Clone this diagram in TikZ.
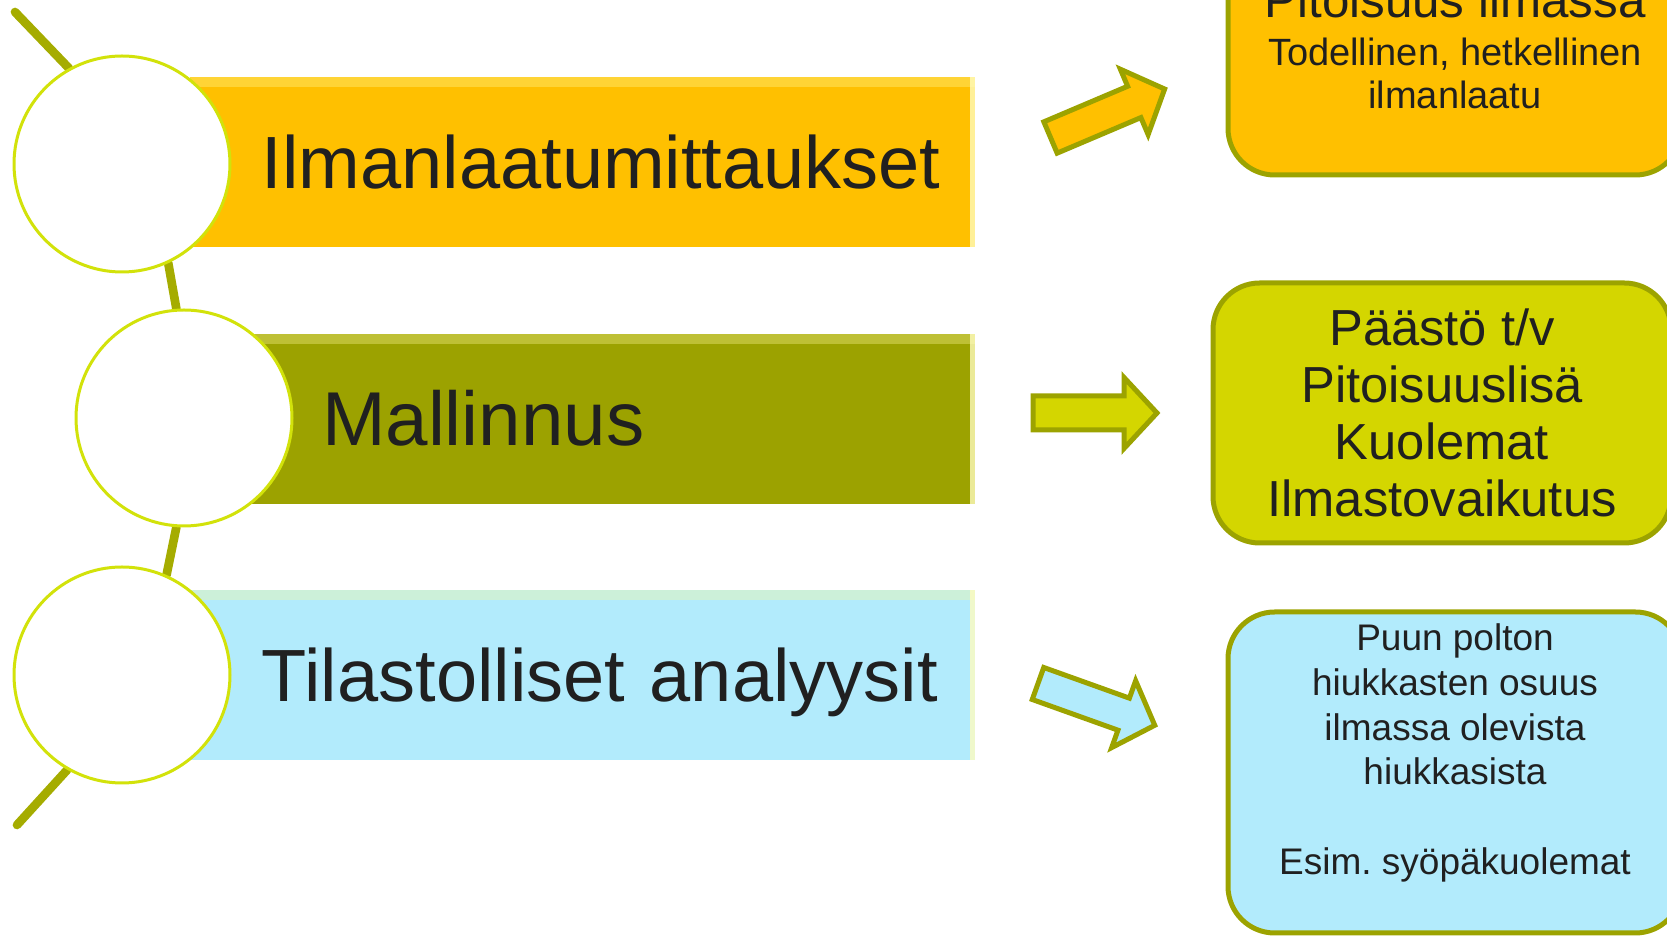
\documentclass[tikz,border=0pt]{standalone}
\usepackage{fontspec}
\setmainfont{Liberation Sans}
\usetikzlibrary{positioning}
\pgfdeclarelayer{background}
\pgfsetlayers{background,main}

\definecolor{orangeA}{RGB}{255,192,0}
\definecolor{oliveA}{RGB}{156,162,0}
\definecolor{blueA}{RGB}{178,235,252}
\definecolor{limeA}{RGB}{212,214,0}
\definecolor{edgec}{RGB}{156,163,0}
\definecolor{spinec}{RGB}{165,172,0}
\definecolor{ringc}{RGB}{210,226,10}
\definecolor{ink}{RGB}{32,32,32}

\begin{document}
\begin{tikzpicture}[x=0.3pt, y=-0.3pt,
bar/.style={anchor=west, text width=#1, minimum height=51pt, inner xsep=0pt, inner ysep=0pt, outer sep=0pt, align=left,
  text height=16pt, text depth=0pt, font=\fontsize{22.2pt}{26pt}\selectfont, text=ink,
  execute at begin node={\noindent\hspace*{21.6pt}},
  path picture={
    \fill[yellow!40!white, opacity=.35] (path picture bounding box.north west) rectangle ([yshift=-3pt]path picture bounding box.north east);
    \fill[yellow!25!white, opacity=.8] (path picture bounding box.north east) rectangle ([xshift=-1.5pt]path picture bounding box.south east);}},
ring/.style={circle, draw=ringc, line width=0.9pt, fill=white, minimum size=64.8pt, inner sep=0pt},
spine/.style={draw=spinec, line width=2.6pt, line cap=round},
box/.style={draw=edgec, line width=1.5pt, rounded corners=14pt, align=center, minimum width=136.2pt, minimum height=78pt, inner sep=0pt, text=ink},
arr/.style={draw=edgec, line width=1.5pt, line join=miter},
blockarr/.pic={\path[arr, pic actions] (0,-17) -- (91,-17) -- (91,-35.5) -- (124,0) -- (91,35.5) -- (91,17) -- (0,17) -- cycle;}
]
\useasboundingbox (0,0) rectangle (1667,936);
\clip (0,0) rectangle (1667,936);

% bars
\node[bar=235.5pt, fill=orangeA] (b1) at (190,162) {Ilmanlaatumittaukset};
\node[bar=217.5pt, fill=oliveA, font=\fontsize{22.9pt}{26pt}\selectfont] (b2) at (250,419) {Mallinnus};
\node[bar=235.5pt, fill=blueA] (b3) at (190,675) {Tilastolliset analyysit};

% circles
\node[ring] (c1) at (122,164) {};
\node[ring] (c2) at (184,418) {};
\node[ring] (c3) at (122,675) {};

\begin{pgfonlayer}{background}
\coordinate (sTop) at (15,12);
\coordinate (sBot) at (17,825);
\draw[spine] (sTop) -- (c1.119);
\draw[spine] (c1.-65) -- (c2.94);
\draw[spine] (c2.-94) -- (c3.66);
\draw[spine] (c3.-120) -- (sBot);
\end{pgfonlayer}

% arrows
\pic[fill=orangeA, rotate=23] (a1) at (1050.5,137.5) {blockarr};
\pic[fill=limeA] (a2) at (1033,413) {blockarr};
\pic[fill=blueA, rotate=-19.7] (a3) at (1038,683.5) {blockarr};

% result boxes
\node[box, fill=orangeA, font=\fontsize{11.4pt}{12.9pt}\selectfont] (r1) at (1455,45)
  {{\fontsize{14.8pt}{17pt}\selectfont Pitoisuus ilmassa}\\[1.5pt] Todellinen, hetkellinen\\ ilmanlaatu};
\node[box, fill=limeA, minimum width=137.4pt, font=\fontsize{15.2pt}{17.1pt}\selectfont] (r2) at (1442,413)
  {Päästö t/v\\ Pitoisuuslisä\\ Kuolemat\\ Ilmastovaikutus};
\node[box, fill=blueA, minimum height=96.3pt] (r3) at (1455,772.5) {};
\node[align=center, text=ink, inner sep=0pt, font=\fontsize{11.1pt}{13.4pt}\selectfont] (r3t) at (1455,753)
  {Puun polton\\ hiukkasten osuus\\ ilmassa olevista\\ hiukkasista\\[13.4pt] Esim.\ syöpäkuolemat};
\end{tikzpicture}
\end{document}
